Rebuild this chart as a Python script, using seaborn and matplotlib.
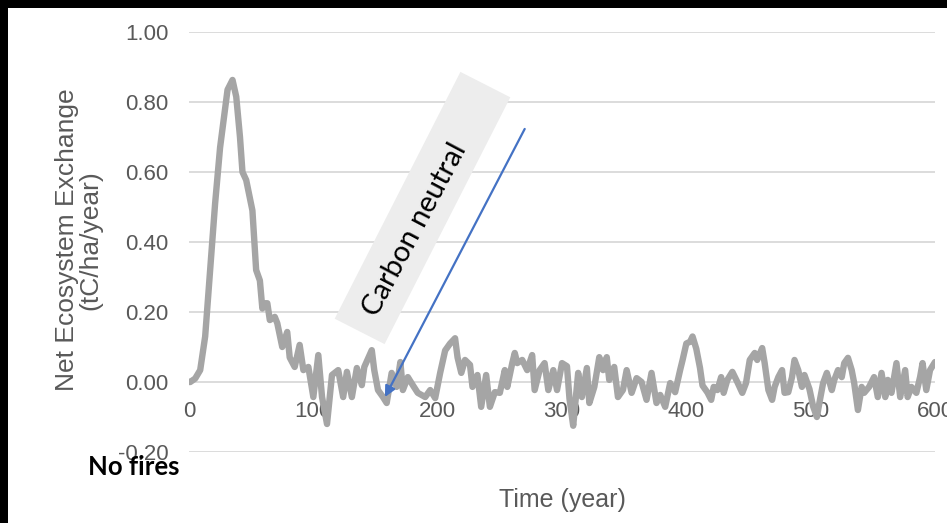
import numpy as np
import pandas as pd
import matplotlib
matplotlib.use("Agg")
import matplotlib.pyplot as plt
import matplotlib.patches as mpatches
from matplotlib.transforms import IdentityTransform
import seaborn as sns

# ---- data ----
years = [0, 1, 5, 9, 13, 17, 21, 25, 29, 31, 35, 38, 41, 43, 46, 51, 54, 57, 59, 61,
         63, 65, 69, 71, 75, 79, 81, 85, 89, 92, 96, 100, 104, 107, 111, 115, 120, 124, 127, 131,
         135, 139, 141, 147, 149, 152, 156, 159, 163, 167, 170, 172, 176, 180, 184, 190, 194, 198, 202, 206,
         210, 214, 216, 219, 222, 226, 228, 232, 235, 239, 242, 246, 250, 254, 256, 260, 262, 264, 268, 272,
         276, 278, 282, 286, 289, 293, 296, 300, 304, 306, 309, 313, 316, 320, 322, 326, 330, 333, 336, 338,
         342, 345, 349, 352, 356, 360, 364, 368, 372, 376, 379, 383, 387, 391, 395, 397, 400, 403, 405, 408,
         411, 413, 417, 420, 422, 425, 428, 430, 433, 437, 441, 445, 448, 451, 455, 457, 461, 463, 466, 469,
         471, 474, 477, 479, 482, 485, 487, 490, 493, 495, 499, 502, 505, 507, 510, 513, 517, 519, 522, 525,
         527, 530, 533, 535, 538, 541, 543, 547, 551, 554, 557, 560, 562, 565, 569, 572, 576, 578, 581, 585,
         588, 590, 593, 596, 600]
nee = [0.0, 0.0, 0.01, 0.034, 0.13, 0.32, 0.51, 0.67, 0.78, 0.835, 0.863, 0.815, 0.70, 0.60, 0.577, 0.49, 0.32, 0.29, 0.21, 0.225,
       0.225, 0.177, 0.186, 0.168, 0.10, 0.143, 0.07, 0.043, 0.106, 0.034, 0.043, -0.043, 0.077, -0.043, -0.12, 0.02, 0.034, -0.043, 0.029, -0.043,
       0.04, -0.009, 0.043, 0.091, 0.034, -0.023, -0.043, -0.06, 0.026, -0.014, 0.057, -0.023, 0.014, -0.009, -0.031, -0.043, -0.023, -0.046, 0.026, 0.09,
       0.11, 0.125, 0.07, 0.026, 0.063, 0.049, -0.014, 0.02, -0.071, 0.02, -0.071, -0.029, -0.031, 0.034, -0.014, 0.054, 0.083, 0.054, 0.063, 0.034,
       0.077, -0.023, 0.034, 0.054, -0.023, 0.034, -0.023, 0.054, 0.045, -0.047, -0.125, 0.026, -0.043, 0.04, -0.06, -0.014, 0.071, 0.034, 0.071, 0.006,
       0.043, -0.043, -0.023, 0.034, -0.031, 0.011, 0.0, -0.051, 0.026, -0.06, -0.037, -0.071, -0.003, -0.029, 0.034, 0.063, 0.11, 0.115, 0.13, 0.095,
       0.04, -0.01, -0.03, -0.051, -0.014, -0.023, 0.014, -0.031, 0.006, 0.029, 0.0, -0.031, -0.003, 0.063, 0.083, 0.063, 0.097, 0.054, -0.023, -0.051,
       -0.014, 0.014, 0.034, -0.031, -0.029, 0.014, 0.063, 0.034, -0.014, 0.02, -0.02, -0.07, -0.10, -0.06, -0.003, 0.026, -0.023, 0.006, 0.034, 0.014,
       0.054, 0.069, 0.034, -0.003, -0.08, -0.014, -0.031, -0.014, 0.014, -0.043, 0.026, -0.043, 0.006, -0.031, 0.054, -0.043, 0.034, -0.043, -0.014, -0.031,
       0.014, 0.054, -0.023, 0.034, 0.057]
x_ticks = [0, 100, 200, 300, 400, 500, 600]
y_ticks = [-0.20, 0.00, 0.20, 0.40, 0.60, 0.80, 1.00]
annotation_text = "Carbon neutral"
panel_label = "No fires"
x_title = "Time (year)"
y_title = "Net Ecosystem Exchange\n(tC/ha/year)"

df = pd.DataFrame({"Time": years, "NEE": nee})

sns.set_style("white")
plt.rcParams["font.family"] = ["Liberation Sans", "DejaVu Sans"]

W, H = 947, 523
fig = plt.figure(figsize=(W / 100, H / 100), dpi=100)
ax = fig.add_axes([189 / W, 1 - 452 / H, (935 - 189) / W, (452 - 32) / H])

sns.lineplot(data=df, x="Time", y="NEE", ax=ax, color="#A5A5A5", linewidth=4.6, zorder=3)

ax.set_xlim(0, 600)
ax.set_ylim(-0.2, 1.0)
ax.set_xticks(x_ticks)
ax.set_xticklabels([str(v) for v in x_ticks])
ax.set_yticks(y_ticks)
ax.set_yticklabels([f"{v:.2f}" for v in y_ticks])
ax.set_xlabel("")
ax.set_ylabel("")

for s in ["top", "right", "left"]:
    ax.spines[s].set_visible(False)
ax.spines["bottom"].set_position(("data", 0))
ax.spines["bottom"].set_visible(False)

ax.yaxis.grid(True, color="#D9D9D9", linewidth=1.3)
ax.xaxis.grid(False)
ax.set_axisbelow(True)
ax.tick_params(axis="y", length=0, pad=15, labelsize=16, labelcolor="#595959")
ax.tick_params(axis="x", length=0, pad=13.5, labelsize=16, labelcolor="#595959")
for lab in ax.get_xticklabels():
    lab.set_clip_on(False)

# axis titles
fig.text(562 / W, 1 - 500 / H, x_title, ha="center", va="center", fontsize=18, color="#595959")
fig.text(79 / W, 1 - 240 / H, y_title, ha="center", va="center", rotation=90,
         fontsize=19, color="#595959", multialignment="center", linespacing=0.95)

# rotated annotation box
cx, cy = 422.5, H - 208
bw, bh = 277, 56
ang = 63
box = mpatches.Rectangle((cx - bw / 2, cy - bh / 2), bw, bh, angle=ang, rotation_point="center",
                         transform=IdentityTransform(), facecolor="#EDEDED", edgecolor="none", zorder=1)
fig.patches.append(box)
fig.text(415 / W, 1 - 230 / H, annotation_text, rotation=62, ha="center", va="center",
         fontsize=21, color="black", family=["Lato", "DejaVu Sans"], rotation_mode="anchor", zorder=2)

# arrow
ax.annotate("", xy=(157.6, -0.043), xytext=(270, 0.723),
            arrowprops=dict(arrowstyle="-|>", color="#4472C4", lw=1.6, mutation_scale=16,
                            shrinkA=0, shrinkB=0), zorder=6)

# panel label
fig.text(88 / W, 1 - 467 / H, panel_label, ha="left", va="center", fontsize=18.5,
         fontweight="bold", color="black", family=["Lato", "DejaVu Sans"])

# black frame bands (top and left)
fig.patches.append(mpatches.Rectangle((0, 1 - 8 / H), 1, 8 / H, transform=fig.transFigure,
                                      facecolor="black", edgecolor="none", zorder=10))
fig.patches.append(mpatches.Rectangle((0, 0), 8 / W, 1, transform=fig.transFigure,
                                      facecolor="black", edgecolor="none", zorder=10))

fig.savefig("out.png", dpi=100, facecolor="white")
